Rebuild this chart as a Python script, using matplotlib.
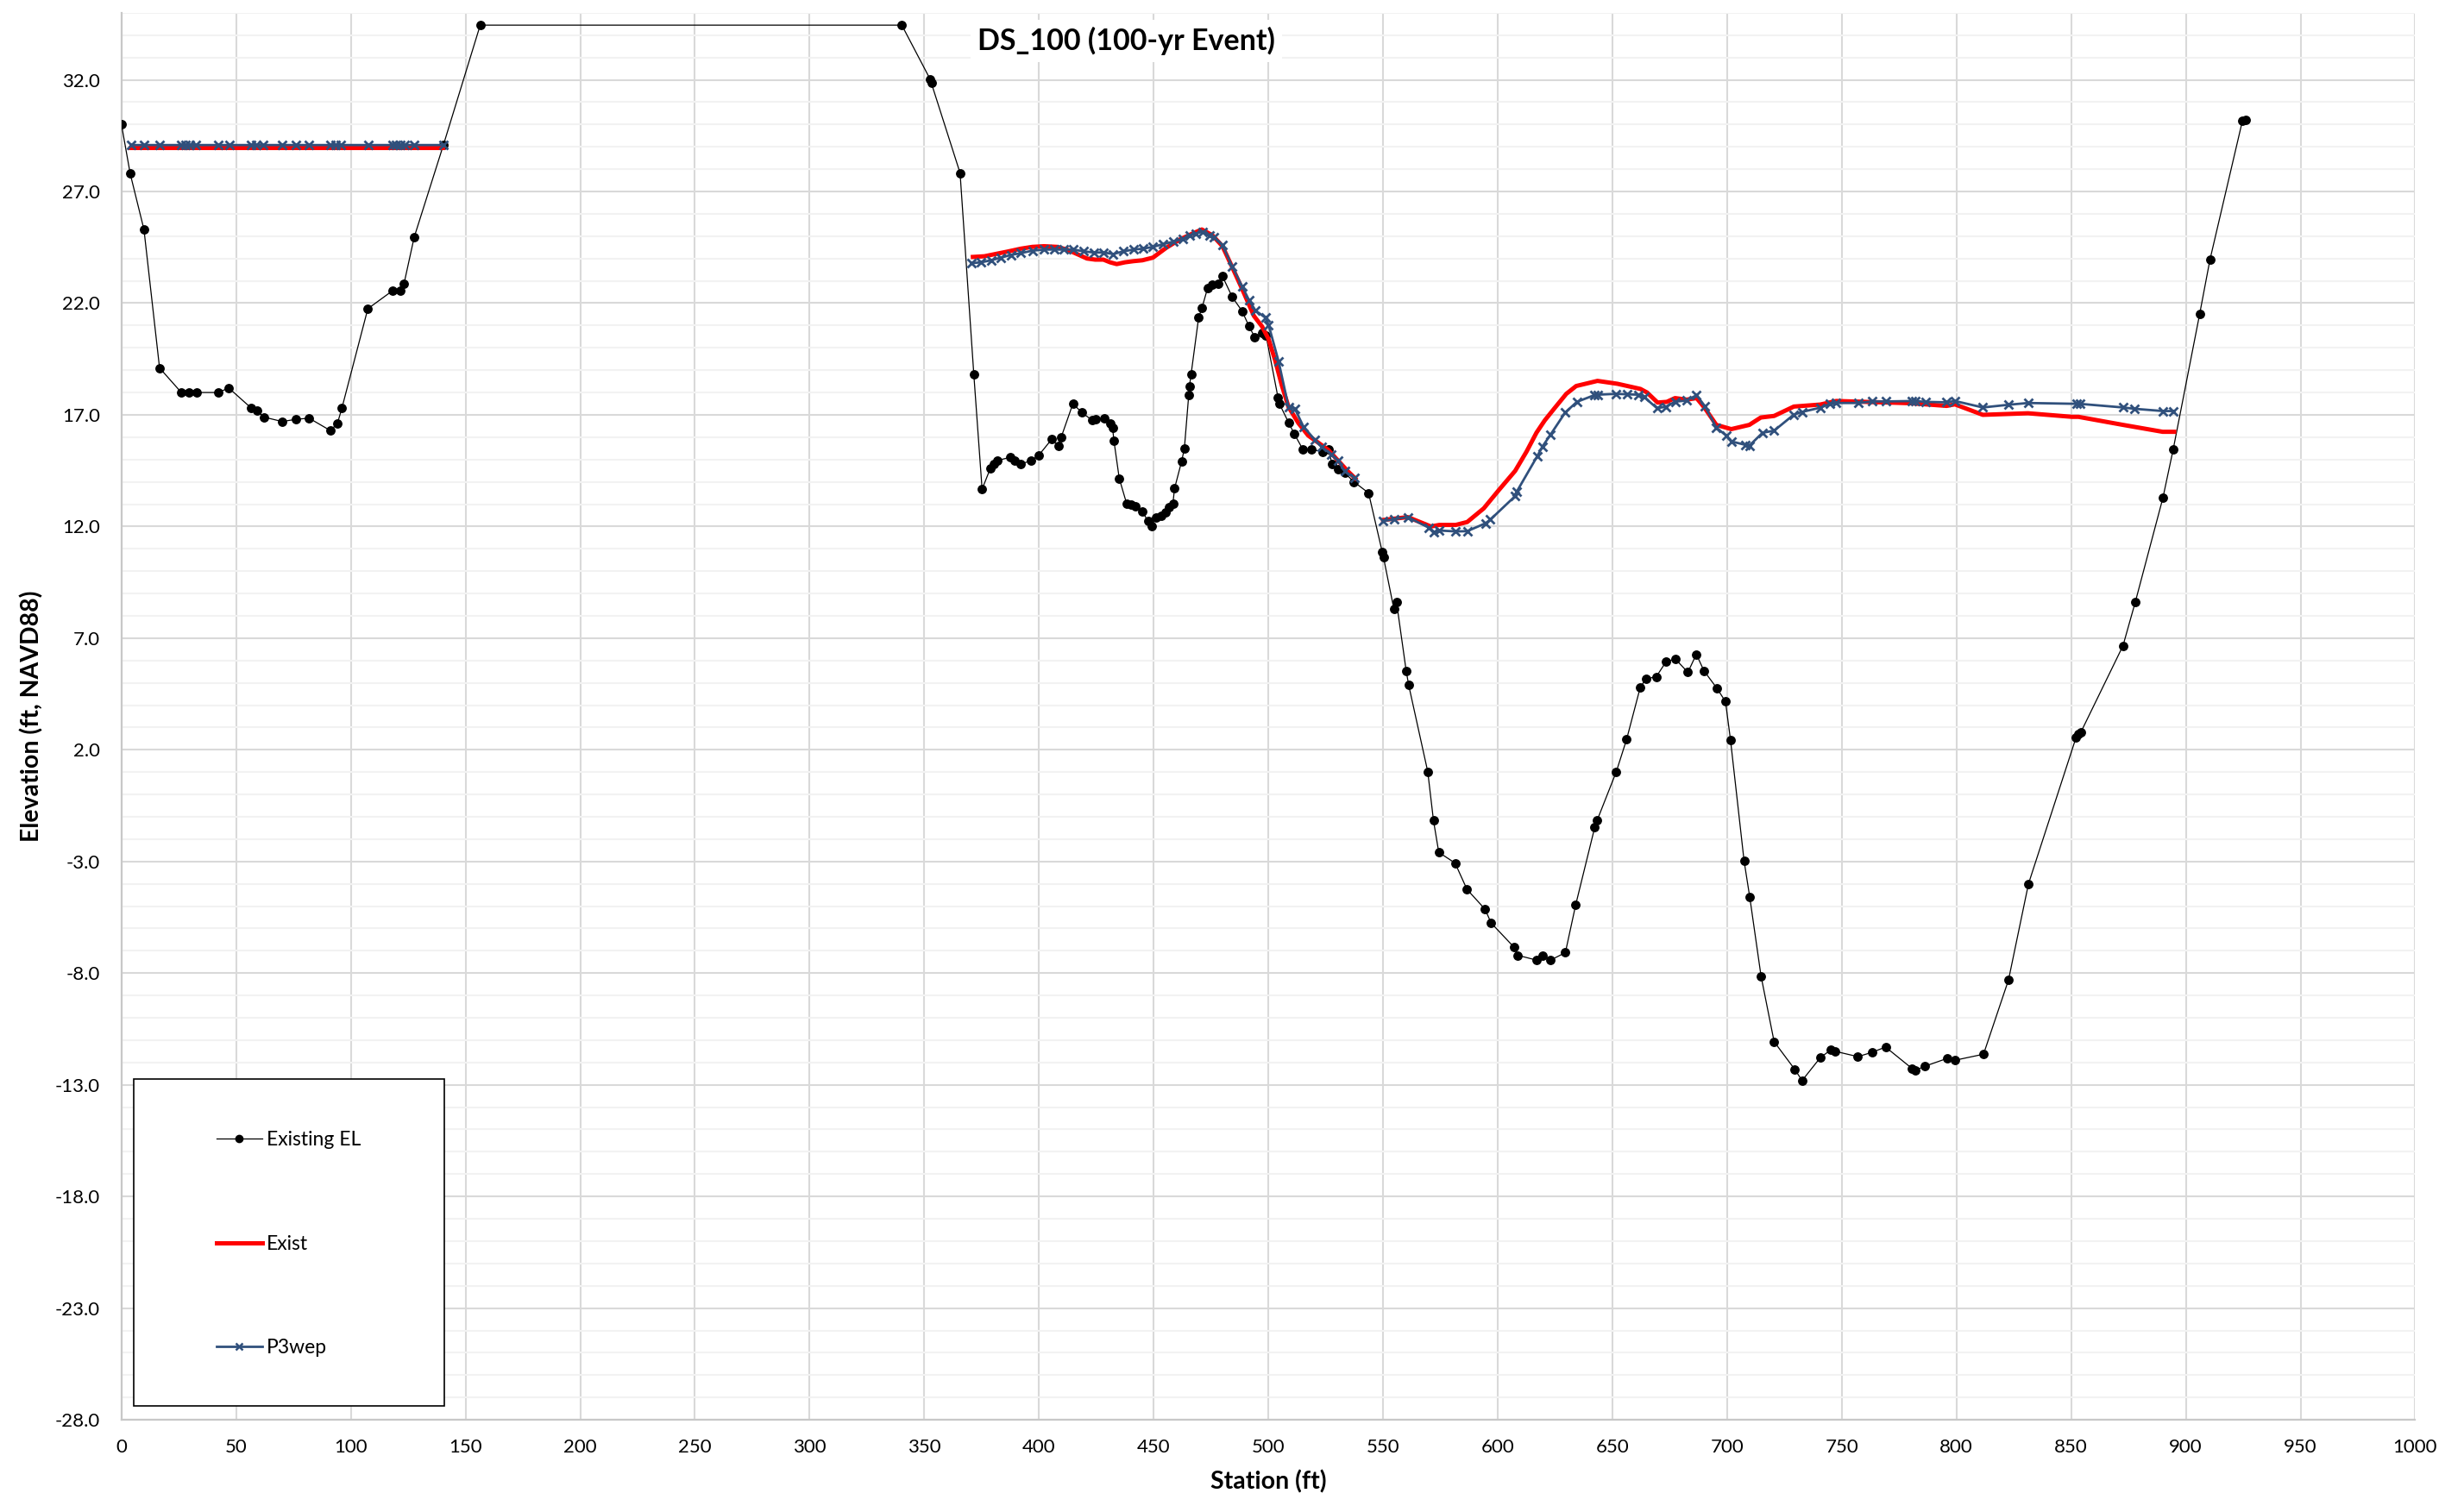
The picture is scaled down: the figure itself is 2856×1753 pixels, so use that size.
import numpy as np
import matplotlib
matplotlib.use("Agg")
import matplotlib.pyplot as plt
from matplotlib.lines import Line2D
from matplotlib.patches import Rectangle
from matplotlib.ticker import FixedLocator, FormatStrFormatter

plt.rcParams['font.family'] = ['Lato', 'DejaVu Sans']
plt.rcParams['axes.unicode_minus'] = False

# ground profile (Existing EL), station vs elevation
ground_sta = [0, 3.8, 9.8, 16.6, 26.1, 29.5, 32.8, 42.1, 46.8, 56.6,
              59.0, 62.0, 70.1, 76.1, 81.8, 91.0, 94.1, 96.1, 107.4, 118.2,
              121.4, 123.2, 127.6, 140.4, 156.4,
              340.2, 352.5, 353.1, 365.6, 371.6, 375.2, 378.8, 380.3, 381.7, 387.5,
              389.5, 392.1, 396.7, 400.0, 405.5, 408.4, 409.7, 414.8, 418.7, 423.3,
              424.9, 428.5, 431.3, 432.1, 432.7, 435.0, 438.2, 440.3, 442.1, 445.1,
              447.6, 449.0, 451.2, 453.3, 455.2, 456.6, 458.4, 459.1, 462.2, 463.4,
              465.3, 465.6, 466.3, 469.6, 471.1, 473.5, 475.6, 478.0, 480.0, 484.3,
              488.6, 491.5, 494.1, 497.3, 499.0,
              504.2, 504.8, 508.8, 511.3, 515.0, 518.6, 523.5, 526.1, 527.8, 530.4,
              533.3, 537.3, 543.7, 549.7, 550.2, 554.7, 555.9, 560.1, 561.2, 569.5,
              572.0, 574.3, 581.4, 586.6, 594.5, 597.1, 607.2, 608.7, 617.0, 619.6,
              623.0, 629.5, 634.0, 642.3, 643.3, 651.7, 656.2, 662.1, 664.6, 669.1,
              673.5, 677.5, 682.9, 686.6, 689.9, 695.6, 699.3,
              701.5, 707.4, 709.9, 714.8, 720.5, 729.5, 732.7, 740.6, 745.3, 747.1,
              757.0, 763.1, 769.1, 780.5, 781.9, 786.2, 795.9, 799.4, 811.8, 822.7,
              831.4, 852.1, 853.1, 854.2, 872.6, 878.0, 890.0, 894.5, 906.0, 910.5,
              924.7, 926.0]
ground_el = [30.0, 27.8, 25.3, 19.1, 18.0, 18.0, 18.0, 18.0, 18.2, 17.3,
             17.2, 16.9, 16.7, 16.8, 16.85, 16.3, 16.6, 17.3, 21.75, 22.56,
             22.56, 22.88, 24.95, 29.1, 34.45,
             34.45, 32.04, 31.85, 27.83, 18.8, 13.67, 14.6, 14.8, 14.95, 15.1,
             14.95, 14.8, 14.95, 15.2, 15.9, 15.6, 16.0, 17.5, 17.1, 16.75,
             16.8, 16.85, 16.6, 16.4, 15.83, 14.15, 13.03, 13.0, 12.9, 12.66,
             12.23, 12.03, 12.4, 12.47, 12.63, 12.87, 13.03, 13.7, 14.92, 15.5,
             17.9, 18.28, 18.8, 21.35, 21.8, 22.67, 22.83, 22.85, 23.2, 22.27,
             21.64, 20.98, 20.47, 20.68, 20.55,
             17.78, 17.5, 16.66, 16.15, 15.46, 15.46, 15.35, 15.46, 14.8, 14.55,
             14.4, 14.0, 13.5, 10.84, 10.62, 8.32, 8.6, 5.53, 4.89, 1.02,
             -1.17, -2.59, -3.07, -4.25, -5.14, -5.75, -6.85, -7.2, -7.42, -7.22,
             -7.42, -7.08, -4.94, -1.47, -1.17, 1.02, 2.47, 4.78, 5.18, 5.27,
             5.96, 6.06, 5.47, 6.28, 5.54, 4.75, 4.16,
             2.43, -2.97, -4.61, -8.13, -11.07, -12.31, -12.81, -11.79, -11.43, -11.5,
             -11.74, -11.55, -11.31, -12.26, -12.36, -12.17, -11.82, -11.9, -11.63, -8.3,
             -4.0, 2.54, 2.69, 2.78, 6.66, 8.63, 13.28, 15.46, 21.5, 23.94,
             30.18, 30.2]

# left overbank water surface (flat)
left_sta = [4.1, 9.8, 16.7, 26.1, 28.0, 29.9, 32.4, 42.1, 47.1, 56.6,
            58.8, 61.9, 70.1, 76.0, 81.8, 91.2, 93.3, 95.8, 107.5, 118.2,
            119.7, 121.6, 123.4, 127.6, 140.2]
exist_left_ws = 28.95
p3_left_ws = 29.08

# Exist water surface, main channel pieces
exist_mid_sta = [371.2, 376.2, 380.5, 386.3, 392.1, 397.1, 402.2, 407.9, 412.2, 416.6,
                 420.9, 424.5, 428.1, 431.0, 433.9, 437.5, 441.1, 445.1, 449.7, 455.5,
                 461.2, 467.0, 471.0, 475.6, 480.0, 484.3, 488.6, 493.7, 497.3, 500.1,
                 503.0, 505.9, 508.8, 513.1, 517.4, 521.8, 526.1, 530.4, 534.7, 537.9]
exist_mid_ws = [24.07, 24.1, 24.19, 24.31, 24.44, 24.52, 24.55, 24.52, 24.4, 24.2,
                24.0, 23.95, 23.95, 23.83, 23.75, 23.83, 23.88, 23.92, 24.04, 24.48,
                24.84, 25.12, 25.3, 25.04, 24.55, 23.6, 22.63, 21.43, 20.95, 20.39,
                19.43, 18.31, 17.35, 16.63, 16.07, 15.75, 15.43, 14.95, 14.47, 14.15]
exist_right_sta = [550.0, 560.8, 570.9, 574.5, 581.7, 586.7, 593.9, 600.4, 607.6, 612.6,
                   616.9, 620.5, 624.8, 629.9, 634.2, 643.5, 652.2, 662.2, 665.1, 669.7,
                   673.7, 677.3, 682.4, 686.7, 690.3, 695.3, 701.8, 709.7, 714.7, 720.5,
                   729.1, 740.6, 747.6, 779.9, 795.7, 799.3, 811.5, 831.2, 850.4, 853.2,
                   872.6, 889.9, 894.9]
exist_right_ws = [12.29, 12.42, 12.0, 12.07, 12.07, 12.2, 12.81, 13.62, 14.49, 15.36,
                  16.2, 16.75, 17.3, 17.94, 18.29, 18.52, 18.39, 18.16, 18.0, 17.55,
                  17.58, 17.75, 17.68, 17.75, 17.3, 16.55, 16.36, 16.55, 16.88, 16.95,
                  17.37, 17.46, 17.62, 17.52, 17.4, 17.47, 17.0, 17.07, 16.91, 16.91,
                  16.55, 16.24, 16.24]

# P3wep water surface
p3_mid_sta = [370.5, 374.8, 379.1, 383.4, 387.8, 392.1, 397.1, 402.2, 406.5, 410.8,
              415.1, 419.5, 423.8, 428.1, 432.4, 436.8, 441.1, 445.4, 449.7, 454.0,
              458.4, 462.7, 465.6, 468.4, 471.3, 474.2, 476.4, 480.0, 484.3, 488.6,
              491.5, 494.4, 498.7, 500.1, 504.5, 508.8, 511.6, 515.3, 520.3, 523.2,
              527.5, 530.4, 533.3, 537.6]
p3_mid_ws = [23.79, 23.83, 23.92, 24.04, 24.16, 24.24, 24.35, 24.4, 24.4, 24.4,
             24.4, 24.32, 24.27, 24.27, 24.2, 24.32, 24.4, 24.44, 24.52, 24.64,
             24.75, 24.88, 25.04, 25.12, 25.2, 25.04, 24.96, 24.59, 23.63, 22.75,
             22.15, 21.67, 21.35, 21.03, 19.38, 17.35, 17.27, 16.47, 15.88, 15.56,
             15.24, 14.95, 14.47, 14.18]
p3_right_sta = [550.0, 555.0, 560.8, 570.1, 572.3, 574.5, 581.7, 586.7, 594.6, 596.8,
                607.6, 608.3, 617.2, 619.5, 623.0, 629.4, 634.5, 642.1, 643.5, 651.4,
                656.5, 661.5, 663.9, 669.4, 673.3, 677.3, 682.4, 686.7, 690.3, 695.3,
                699.6, 701.8, 707.8, 709.7, 715.5, 720.5, 729.1, 732.7, 740.6, 745.0,
                747.6, 757.2, 763.4, 769.4, 780.6, 782.1, 786.4, 795.7, 799.3, 811.5,
                822.6, 831.2, 852.5, 854.0, 872.6, 877.7, 889.9, 894.5]
p3_right_ws = [12.24, 12.33, 12.42, 11.94, 11.75, 11.82, 11.78, 11.79, 12.14, 12.31,
               13.36, 13.56, 15.14, 15.58, 16.11, 17.1, 17.58, 17.88, 17.9, 17.94,
               17.92, 17.9, 17.79, 17.3, 17.36, 17.59, 17.64, 17.88, 17.39, 16.43,
               16.07, 15.81, 15.66, 15.62, 16.2, 16.29, 17.01, 17.13, 17.32, 17.49,
               17.53, 17.53, 17.6, 17.6, 17.62, 17.62, 17.58, 17.56, 17.62, 17.33,
               17.45, 17.53, 17.49, 17.49, 17.33, 17.27, 17.17, 17.17]


def join(*parts):
    # glue segments together with NaN gaps so each series is one line
    xs, ys = [], []
    for sx, sy in parts:
        if xs:
            xs.append(np.nan)
            ys.append(np.nan)
        xs += list(sx)
        ys += list(sy)
    return np.array(xs, float), np.array(ys, float)


exist_x, exist_y = join((left_sta, [exist_left_ws] * len(left_sta)),
                        (exist_mid_sta, exist_mid_ws),
                        (exist_right_sta, exist_right_ws))
p3_x, p3_y = join((left_sta, [p3_left_ws] * len(left_sta)),
                  (p3_mid_sta, p3_mid_ws),
                  (p3_right_sta, p3_right_ws))

BLUE = '#30507c'

fig = plt.figure(figsize=(28.56, 17.53), dpi=100)
ax = fig.add_axes([0.0493, 0.061, 0.9309, 0.9305])

ax.plot(ground_sta, ground_el, color='black', lw=0.9, marker='o', ms=6.8,
        zorder=3, label='Existing EL')
ax.plot(exist_x, exist_y, color='#ff0000', lw=3.6, zorder=3.1, label='Exist')
ax.plot(p3_x, p3_y, color=BLUE, lw=2.0, marker='x', ms=6.5, mew=2.0,
        zorder=3.2, label='P3wep')

ax.set_xlim(0, 1000)
ax.set_ylim(-28, 35)
ax.xaxis.set_major_locator(FixedLocator(np.arange(0, 1001, 50)))
ax.yaxis.set_major_locator(FixedLocator(np.arange(-28, 33, 5)))
ax.yaxis.set_minor_locator(FixedLocator(np.arange(-28, 36, 1)))
ax.yaxis.set_major_formatter(FormatStrFormatter('%.1f'))

ax.grid(True, which='minor', axis='y', color='#f2f2f2', lw=1.5, zorder=0)
ax.grid(True, which='major', axis='both', color='#d9d9d9', lw=1.5, zorder=0.5)
ax.set_axisbelow(True)

for s in ('top', 'right'):
    ax.spines[s].set_visible(False)
for s in ('left', 'bottom'):
    ax.spines[s].set_color('#c8c8c8')
    ax.spines[s].set_linewidth(1.6)

ax.tick_params(axis='both', which='both', length=0, labelsize=16, colors='black')
ax.tick_params(axis='y', pad=18)
ax.tick_params(axis='x', pad=16)

ax.set_xlabel('Station (ft)', fontsize=20.5, fontweight='bold')
ax.set_ylabel('Elevation (ft, NAVD88)', fontsize=20.5, fontweight='bold')
ax.xaxis.set_label_coords(0.5, -0.036)
ax.yaxis.set_label_coords(-0.034, 0.5)

ax.text(0.438, 0.980, 'DS_100 (100-yr Event)', transform=ax.transAxes,
        ha='center', va='center', fontsize=24.5, fontweight='bold', zorder=6,
        bbox=dict(facecolor='white', edgecolor='none', pad=6))

# legend: white box with black frame, entries spread out vertically
ax.add_patch(Rectangle((0.0054, 0.0098), 0.1354, 0.2322, transform=ax.transAxes,
                       facecolor='white', edgecolor='black', lw=1.2, zorder=4.5))
handles = [Line2D([], [], color='black', lw=0.9, marker='o', ms=6),
           Line2D([], [], color='#ff0000', lw=3.6),
           Line2D([], [], color=BLUE, lw=2.0, marker='x', ms=5.5, mew=1.8)]
leg = ax.legend(handles, ['Existing EL', 'Exist', 'P3wep'], loc='center left',
                bbox_to_anchor=(0.0414, 0.125), frameon=False, fontsize=16.5,
                borderpad=0, borderaxespad=0, handlelength=2.3, handletextpad=0.25,
                labelspacing=4.35)
leg.set_zorder(5)

fig.savefig('out.png', dpi=100)
